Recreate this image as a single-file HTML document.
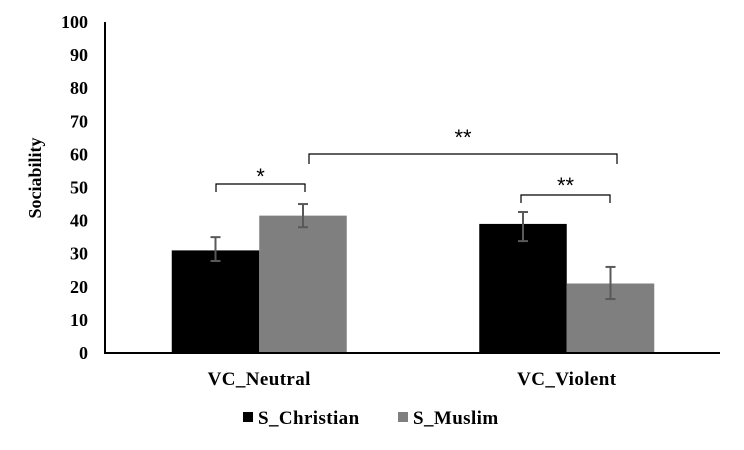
<!DOCTYPE html>
<html><head><meta charset="utf-8"><style>
body{margin:0;background:#fff;}
svg{display:block;font-family:"Liberation Serif",serif;font-weight:bold;}
</style></head><body>
<svg id="chart" width="744" height="450" viewBox="0 0 744 450"></svg>
<script>
const categories = ["VC_Neutral", "VC_Violent"];
const seriesNames = ["S_Christian", "S_Muslim"];
const christianValues = [31, 39];
const muslimValues = [41.5, 21];
const christianLow = [27.8, 33.8];
const christianHigh = [35, 42.6];
const muslimLow = [38, 16.3];
const muslimHigh = [45, 26];
const yTicks = [0,10,20,30,40,50,60,70,80,90,100];

const svg = document.getElementById('chart');
const NS = 'http://www.w3.org/2000/svg';
const x0 = 105, x1 = 720, yBase = 353, yTop = 22;
const y = v => yBase - (v/100)*(yBase - yTop);
const groupW = (x1 - x0)/categories.length;
const barW = 87.5;
const groupCenter = i => x0 + groupW*(i+0.5) + 0.5;
function mk(tag, attrs, parent){
  const e = document.createElementNS(NS, tag);
  for (const k in attrs) e.setAttribute(k, attrs[k]);
  (parent||svg).appendChild(e); return e;
}
yTicks.forEach(t => {
  const tx = mk('text', {x: 88, y: y(t)+6, 'text-anchor':'end', 'font-size':18, fill:'#000'});
  
  
  tx.textContent = t;
});
const series = [
  {vals: christianValues, lo: christianLow, hi: christianHigh, color:'#000'},
  {vals: muslimValues, lo: muslimLow, hi: muslimHigh, color:'#7f7f7f'}
];
categories.forEach((c, i) => {
  const cx = groupCenter(i);
  series.forEach((s, j) => {
    const bx = cx + (j === 0 ? -barW : 0);
    const r = mk('rect', {x: bx, y: y(s.vals[i]), width: barW, height: yBase - y(s.vals[i]), fill: s.color});
    
    
    const ex = bx + barW/2;
    const g = mk('g', {stroke:'#595959', 'stroke-width':2, fill:'none'});
    
    
    mk('line', {x1: ex, x2: ex, y1: y(s.lo[i]), y2: y(s.hi[i])}, g);
    mk('line', {x1: ex-5, x2: ex+5, y1: y(s.lo[i]), y2: y(s.lo[i])}, g);
    mk('line', {x1: ex-5, x2: ex+5, y1: y(s.hi[i]), y2: y(s.hi[i])}, g);
  });
  const lt = mk('text', {x: cx, y: 385, 'text-anchor':'middle', 'font-size':19, 'letter-spacing':0.4, fill:'#000'});
  
  
  lt.textContent = c;
});
const ya = mk('line', {x1:x0, x2:x0, y1:yTop, y2:yBase+1, stroke:'#000', 'stroke-width':2});


const xa = mk('line', {x1:x0-1, x2:x1, y1:yBase, y2:yBase, stroke:'#000', 'stroke-width':2});


function bracket(xa_, xb, yt, yb, label, ly, name){
  const g = mk('g', {});
  
  
  mk('path', {d:`M${xa_},${yb} L${xa_},${yt} L${xb},${yt} L${xb},${yb}`, stroke:'#000', 'stroke-width':1.2, fill:'none'}, g);
  const t = mk('text', {x:(xa_+xb)/2, y:ly, 'text-anchor':'middle', 'font-size':22, 'font-weight':'normal', 'font-family':'"Liberation Sans", sans-serif', fill:'#000'}, g);
  t.textContent = label;
}
bracket(216, 305, 184, 192, '*', 184, 'significance-bracket-neutral');
bracket(309, 617, 154, 164, '**', 145, 'significance-bracket-muslim');
bracket(521, 610, 195, 203, '**', 193, 'significance-bracket-violent');
const yt = mk('text', {x:0, y:0, transform:'translate(41,178) rotate(-90)', 'text-anchor':'middle', 'font-size':18, fill:'#000'});


yt.textContent = 'Sociability';
const legendX = [243, 398];
const legendColors = ['#000', '#7f7f7f'];
seriesNames.forEach((n, i) => {
  const g = mk('g', {});
  
  
  mk('rect', {x:legendX[i], y:412, width:10, height:10, fill:legendColors[i]}, g);
  const t = mk('text', {x:legendX[i]+15, y:424, 'font-size':19, 'letter-spacing':0.4, fill:'#000'}, g);
  t.textContent = n;
});
</script>
</body></html>
